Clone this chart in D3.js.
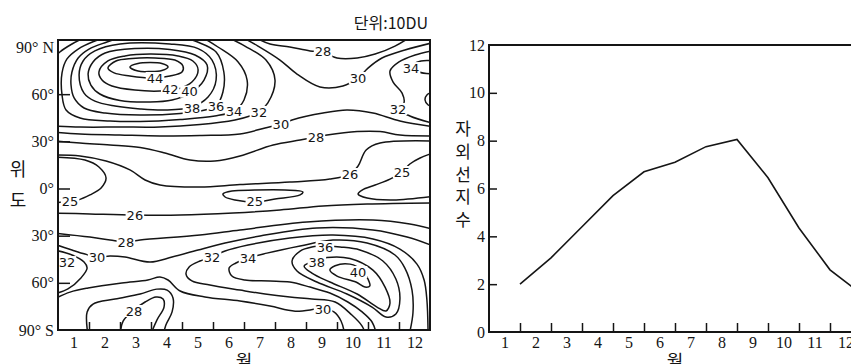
<!DOCTYPE html>
<html>
<head>
<meta charset="utf-8">
<script src="https://cdn.jsdelivr.net/npm/d3@7"></script>
<style>
  body { margin: 0; background: #fff; }
</style>
</head>
<body>
<svg id="chart" width="851" height="364"></svg>
<script>
// ---- data ----
const months = [1, 2, 3, 4, 5, 6, 7, 8, 9, 10, 11, 12];
const latTicks = [90, 60, 30, 0, -30, -60, -90];
const latTickLabels = ["90° N", "60°", "30°", "0°", "30°", "60°", "90° S"];
const uvTicks = [0, 2, 4, 6, 8, 10, 12];
// UV index, one value per month (plotted at the end of each month)
const uvIndex = [2.0, 3.1, 4.4, 5.7, 6.7, 7.1, 7.75, 8.05, 6.45, 4.35, 2.6, 1.6];

// ozone contour lines, points are [month, latitude], level in 10DU
const lvl46 = [[2.32,77.3],[2.58,79.5],[2.97,80.1],[3.35,79.5],[3.55,77.3],[3.35,75.1],[2.97,74.4],[2.58,74.7]];
const lvl44 = [[1.61,76.6],[1.87,81.1],[2.39,82.7],[3.13,83.0],[3.77,81.7],[4.03,77.9],[4.0,74.1],[3.61,71.6],[3.03,70.3],[2.32,71.6],[1.81,73.5]];
const lvl42 = [[1.32,74.1],[1.61,81.1],[2.16,84.3],[2.97,85.5],[3.87,84.3],[4.35,81.1],[4.52,75.4],[4.32,67.7],[3.87,63.3],[3.29,62.0],[2.48,62.6],[1.74,65.2],[1.42,69.0]];
const lvl40n = [[0.97,72.8],[1.13,80.5],[1.52,86.2],[2.48,89.0],[3.61,88.4],[4.42,84.9],[4.81,78.5],[4.71,69.0],[4.26,60.7],[3.68,56.3],[2.97,55.0],[2.0,56.0],[1.35,60.1],[1.06,65.8]];
const lvl38n = [[0.68,72.2],[0.81,81.1],[1.19,87.5],[2.0,91.9],[3.61,91.9],[4.52,89.0],[4.97,81.7],[5.10,69.0],[4.84,58.2],[4.32,51.8],[3.45,49.9],[2.65,50.6],[1.84,52.5],[1.19,55.6],[0.84,60.7]];
const lvl36n = [[2.26,97.6],[1.58,93.2],[1.0,88.7],[0.65,83.0],[0.45,74.1],[0.42,65.8],[0.52,57.6],[0.84,51.2],[1.52,48.0],[2.65,46.7],[3.94,47.7],[4.74,49.9],[5.10,52.5],[5.32,61.4],[5.35,74.1],[5.10,86.8],[4.42,93.8],[3.87,97.6]];
const lvl34n = [[1.74,97.6],[1.19,93.8],[0.65,88.7],[0.29,82.4],[0.13,73.5],[0.13,59.5],[0.26,49.9],[0.71,44.8],[1.68,42.9],[2.65,42.6],[3.94,43.9],[5.06,46.1],[5.68,49.3],[6.0,56.3],[6.10,69.0],[5.81,80.5],[5.16,90],[4.58,97]];
const lvl32n = [[-0.13,39.8],[0.71,39.1],[2.0,39.1],[3.29,39.1],[4.58,40.7],[5.71,43.6],[6.19,46.1],[6.48,48.7],[6.77,54.4],[7.0,69.0],[6.71,81.7],[6.03,90.6],[5.39,97]];
const lvl32corner = [[-0.19,81.7],[0.06,86.8],[0.45,91.9],[0.90,96.4]];
const lvl30s = [[-0.13,35.9],[0.71,34.7],[2.0,34.0],[3.29,33.4],[4.58,33.7],[5.87,34.7],[6.68,38.5],[7.19,41.0],[7.55,43.6],[8.55,48.0],[9.32,49.9],[10.16,48.0],[11.03,42.9],[12.19,39.1]];
const lvl30n = [[5.87,97],[6.45,90.6],[7.16,81.7],[7.71,72.8],[8.45,64.6],[9.19,65.2],[9.68,70.3],[10.0,76.6],[10.45,83.0],[11.19,88.1],[12.19,93.2]];
const lvl28s = [[-0.13,30.2],[0.71,28.9],[1.68,27.7],[2.65,26.1],[3.45,22.6],[4.26,18.1],[5.06,17.5],[5.87,20.7],[6.94,27.7],[7.81,30.8],[8.32,32.7],[8.68,34.0],[9.65,36.2],[10.39,36.2],[11.03,34.0],[12.19,33.4]];
const lvl28n = [[6.26,97],[6.84,91.9],[7.48,90],[8.13,87.5],[8.55,86.8],[9.0,83.0],[9.65,83.0],[10.23,85.5],[10.87,90.6],[11.42,97]];
const lvl32e = [[12.19,88.1],[11.52,84.9],[11.0,80.5],[10.71,74.7],[10.81,67.7],[11.10,60.7],[11.16,54.4],[10.97,50.6],[11.35,46.1],[12.19,41.0]];
const lvl34e = [[12.19,81.1],[11.71,81.1],[11.42,77.9],[11.65,74.1],[12.19,72.8]];
const lvl36e = [[12.19,62.0],[11.90,59.5],[11.84,56.3],[11.94,53.1],[12.19,51.8]];
const lvl26n = [[-0.13,21.3],[0.71,20.7],[1.55,17.5],[2.32,11.8],[2.81,5.4],[3.29,2.2],[4.58,0.9],[5.87,2.5],[7.48,4.1],[8.77,6.0],[9.42,9.2],[9.68,14.3],[9.94,24.5],[10.39,28.9],[12.19,30.2]];
const lvl25w = [[-0.13,20.0],[0.87,18.1],[1.32,13.7],[1.55,6.7],[1.39,0.3],[1.03,-4.1],[0.65,-7.3],[0.39,-8.0],[-0.13,-9.2]];
const lvl25c = [[5.32,-3.5],[5.61,-1.6],[6.35,-1.0],[7.32,-1.0],[7.90,-2.2],[7.81,-4.1],[7.0,-6.7],[6.35,-8.6],[5.71,-7.3],[5.39,-5.4]];
const lvl25e = [[12.19,23.2],[11.68,19.4],[11.35,15.6],[11.10,10.5],[10.71,6.0],[10.23,2.2],[9.81,-1.0],[9.68,-3.5],[9.97,-6.1],[10.81,-7.3],[12.19,-4.8]];
const lvl26s = [[-0.13,-15.6],[1.03,-16.2],[2.48,-16.9],[3.94,-16.9],[5.65,-15.6],[7.16,-13.7],[8.55,-11.1],[9.97,-9.9],[12.19,-9.2]];
const lvl28b = [[-0.13,-28.3],[1.03,-30.9],[1.68,-32.8],[2.19,-34.0],[2.65,-32.8],[4.58,-29.6],[5.87,-26.4],[8.03,-21.3],[10.16,-20.0],[11.35,-22.6],[12.19,-26.4]];
const lvl30b = [[-0.13,-35.3],[0.45,-39.1],[0.87,-41.7],[1.26,-43.6],[1.68,-43.0],[2.16,-43.6],[2.97,-46.8],[3.68,-43.6],[4.52,-39.1],[5.39,-34.7],[6.52,-30.2],[8.35,-25.1],[10.16,-26.4],[11.26,-30.9],[12.19,-37.2]];
const lvl32w = [[-0.13,-39.1],[0.45,-42.3],[0.84,-46.8],[0.94,-50.6],[0.74,-56.9],[0.32,-63.9],[-0.13,-67.1]];
const lvl32t = [[11.94,-93.8],[11.90,-70.9],[11.81,-58.2],[11.58,-48.1],[11.03,-38.5],[10.16,-32.1],[8.87,-29.6],[7.48,-31.5],[6.13,-36.0],[5.39,-39.8],[4.97,-43.6],[4.58,-46.1],[4.23,-49.9],[4.13,-54.4],[4.32,-58.8],[4.90,-61.4],[5.87,-64.6],[6.68,-67.1],[7.48,-69.0],[8.19,-70.3],[8.94,-72.2],[9.48,-80.5],[9.81,-87.5],[9.94,-93.8]];
const lvl34t = [[11.32,-93.8],[11.45,-79.2],[11.42,-64.6],[11.19,-50.6],[10.87,-42.3],[9.97,-34.7],[8.87,-32.8],[7.81,-36.6],[6.74,-41.1],[6.13,-44.2],[5.74,-47.4],[5.52,-50.6],[5.61,-55.7],[6.03,-58.2],[6.84,-58.8],[7.48,-59.5],[8.13,-62.7],[8.77,-66.5],[9.35,-72.2],[9.81,-78.5],[10.13,-84.9],[10.29,-93.8]];
const lvl36s = [[8.61,-36.6],[9.10,-37.2],[9.74,-39.1],[10.48,-46.1],[10.90,-57.6],[11.03,-70.3],[10.90,-79.8],[10.58,-81.7],[10.13,-75.4],[9.32,-67.1],[8.35,-59.5],[7.71,-52.5],[7.55,-46.1],[7.81,-39.8],[8.19,-37.2]];
const lvl38s = [[7.94,-49.3],[8.29,-46.1],[8.68,-43.9],[9.42,-44.5],[10.16,-51.9],[10.55,-62.7],[10.71,-72.8],[10.58,-77.9],[10.29,-75.4],[9.65,-67.1],[8.77,-59.5],[8.19,-53.8]];
const lvl40s = [[8.77,-51.9],[8.94,-49.1],[9.42,-48.1],[9.81,-51.9],[10.0,-57.6],[10.06,-62.0],[9.90,-62.7],[9.61,-59.5],[9.0,-55.7]];
const lvl30p = [[-0.13,-70.3],[0.39,-65.9],[0.97,-63.3],[2.06,-60.1],[2.90,-58.2],[3.29,-56.3],[3.55,-58.2],[3.94,-65.2],[4.74,-69.0],[5.87,-71.6],[6.84,-74.8],[7.65,-78.0],[8.55,-76.6],[8.90,-78.5],[9.13,-84.3],[9.26,-93.8]];
const lvl28q = [[0.97,-93.8],[0.94,-78.5],[1.13,-73.5],[1.84,-70.3],[2.65,-67.1],[3.19,-64.0],[3.52,-64.6],[3.71,-69.6],[3.68,-78.5],[3.48,-86.8],[3.39,-93.8]];
const lvl26r = [[2.0,-93.8],[2.10,-84.3],[2.45,-77.3],[2.81,-72.2],[3.16,-69.0],[3.39,-70.3],[3.42,-75.4],[3.19,-83.7],[2.97,-93.8]];

const closedLoops = [lvl46, lvl44, lvl42, lvl40n, lvl38n, lvl25c, lvl36s, lvl38s, lvl40s];
const openLines = [lvl36n, lvl34n, lvl32n, lvl32corner, lvl30s, lvl30n, lvl28s, lvl28n, lvl32e, lvl34e, lvl36e,
  lvl26n, lvl25w, lvl25e, lvl26s, lvl28b, lvl30b, lvl32w, lvl32t, lvl34t, lvl30p, lvl28q, lvl26r];

// contour labels: [value, month, latitude]
const contourLabels = [
  [44,3.13,70.3],[42,3.62,62.8],[40,4.24,61.6],[38,4.32,51.2],[36,5.10,52.5],[34,5.68,49.3],[32,6.48,48.7],[30,7.19,41.0],[28,8.32,32.7],
  [28,8.55,87.5],[30,9.68,70.3],[34,11.39,76.6],[32,10.97,50.6],[26,9.42,9.2],[25,11.10,10.5],
  [25,0.39,-8.0],[25,6.35,-7.9],[26,2.48,-16.9],[28,2.19,-34.0],[30,1.26,-43.6],[32,0.29,-46.8],
  [32,4.97,-43.6],[34,6.13,-44.2],[36,8.61,-37.2],[38,8.35,-46.8],[40,9.68,-53.1],[30,8.55,-76.6],[28,2.45,-77.9]
];

// ---- drawing ----
const serif = "'Liberation Serif','Times New Roman',serif";
const sans = "'Noto Sans CJK KR','Noto Sans',sans-serif";
const ink = "#151515";

const svg = d3.select("#chart");

// left panel: total ozone by latitude and month
const L = {x: 58, y: 40, w: 372, h: 290};
const gL = svg.append("g").attr("transform", `translate(${L.x},${L.y})`);
const xL = d3.scaleLinear().domain([0, 12]).range([0, L.w]);
const yL = d3.scaleLinear().domain([-90, 90]).range([L.h, 7]);

svg.append("defs").append("clipPath").attr("id", "clipL")
  .append("rect").attr("width", L.w).attr("height", L.h);

const contourG = gL.append("g").attr("clip-path", "url(#clipL)");
const openPath = d3.line().x(d => xL(d[0])).y(d => yL(d[1])).curve(d3.curveCatmullRom.alpha(0.5));
const loopPath = d3.line().x(d => xL(d[0])).y(d => yL(d[1])).curve(d3.curveCatmullRomClosed.alpha(0.5));

contourG.selectAll("path.open").data(openLines).join("path")
  .attr("class", "open").attr("d", openPath)
  .attr("fill", "none").attr("stroke", ink).attr("stroke-width", 1.5);
contourG.selectAll("path.loop").data(closedLoops).join("path")
  .attr("class", "loop").attr("d", loopPath)
  .attr("fill", "none").attr("stroke", ink).attr("stroke-width", 1.5);

// labels sit on the lines with a white box that breaks them
const lab = contourG.selectAll("g.lab").data(contourLabels).join("g")
  .attr("class", "lab")
  .attr("transform", d => `translate(${xL(d[1])},${yL(d[2])})`);
lab.append("rect").attr("fill", "#fff");
const labText = lab.append("text")
  .attr("text-anchor", "middle").attr("dy", "0.36em")
  .attr("font-family", "'DejaVu Sans',sans-serif").attr("font-size", 13).attr("fill", ink)
  .text(d => d[0]);
labText.each(function() {
  const bb = this.getBBox();
  d3.select(this.parentNode).select("rect")
    .attr("x", bb.x - 1).attr("width", bb.width + 2)
    .attr("y", -6).attr("height", 12);
});

// frame
gL.append("rect").attr("width", L.w).attr("height", L.h)
  .attr("fill", "none").attr("stroke", ink).attr("stroke-width", 2);

// inward ticks
gL.append("g").attr("transform", `translate(0,${L.h})`)
  .call(d3.axisBottom(xL).tickValues(d3.range(1, 12)).tickSize(-8).tickFormat(""))
  .call(g => g.select(".domain").remove())
  .call(g => g.selectAll("line").attr("stroke", ink).attr("stroke-width", 1.5));
gL.append("g")
  .call(d3.axisLeft(yL).tickValues(latTicks.slice(1, -1)).tickSize(-12).tickFormat(""))
  .call(g => g.select(".domain").remove())
  .call(g => g.selectAll("line").attr("stroke", ink).attr("stroke-width", 1.5));

// tick labels
gL.append("g")
  .call(d3.axisLeft(yL).tickValues(latTicks).tickSize(0).tickPadding(4)
    .tickFormat((d, i) => latTickLabels[i]))
  .call(g => g.select(".domain").remove())
  .call(g => g.selectAll("text").attr("font-family", serif).attr("font-size", 16).attr("fill", ink));
gL.append("g").attr("transform", `translate(0,${L.h})`)
  .call(d3.axisBottom(xL).tickValues(months.map(m => m - 0.5)).tickSize(0).tickPadding(7)
    .tickFormat(d => d + 0.5))
  .call(g => g.select(".domain").remove())
  .call(g => g.selectAll("text").attr("font-family", serif).attr("font-size", 16).attr("fill", ink));

// axis titles and unit
svg.append("text").attr("x", L.x + L.w - 2).attr("y", 29).attr("text-anchor", "end")
  .attr("font-family", sans).attr("font-size", 16).attr("fill", ink).text("단위:10DU");
svg.append("text").attr("x", 18).attr("y", 160)
  .style("writing-mode", "vertical-rl").style("text-orientation", "upright")
  .attr("font-family", sans).attr("font-size", 18).attr("letter-spacing", 13)
  .attr("fill", ink).text("위도");
svg.append("text").attr("x", L.x + xL(6)).attr("y", 368).attr("text-anchor", "middle")
  .attr("font-family", sans).attr("font-size", 18).attr("fill", ink).text("월");

// right panel: UV index by month
const R = {x: 489, y: 45, w: 372, h: 287};
const gR = svg.append("g").attr("transform", `translate(${R.x},${R.y})`);
const xR = d3.scaleLinear().domain([0, 12]).range([0, R.w]);
const yR = d3.scaleLinear().domain([0, 12]).range([R.h, 0]);

gR.append("rect").attr("width", R.w).attr("height", R.h)
  .attr("fill", "none").attr("stroke", ink).attr("stroke-width", 2);

gR.append("g").attr("transform", `translate(0,${R.h})`)
  .call(d3.axisBottom(xR).tickValues(d3.range(1, 12)).tickSize(-9).tickFormat(""))
  .call(g => g.select(".domain").remove())
  .call(g => g.selectAll("line").attr("stroke", ink).attr("stroke-width", 1.5));
gR.append("g")
  .call(d3.axisLeft(yR).tickValues(uvTicks.slice(1, -1)).tickSize(-8).tickFormat(""))
  .call(g => g.select(".domain").remove())
  .call(g => g.selectAll("line").attr("stroke", ink).attr("stroke-width", 1.5));
gR.append("g")
  .call(d3.axisLeft(yR).tickValues(uvTicks).tickSize(0).tickPadding(4))
  .call(g => g.select(".domain").remove())
  .call(g => g.selectAll("text").attr("font-family", serif).attr("font-size", 16).attr("fill", ink));
gR.append("g").attr("transform", `translate(0,${R.h})`)
  .call(d3.axisBottom(xR).tickValues(months.map(m => m - 0.5)).tickSize(0).tickPadding(5)
    .tickFormat(d => d + 0.5))
  .call(g => g.select(".domain").remove())
  .call(g => g.selectAll("text").attr("font-family", serif).attr("font-size", 16).attr("fill", ink));

gR.append("path").datum(uvIndex)
  .attr("d", d3.line().x((d, i) => xR(months[i])).y(d => yR(d)))
  .attr("fill", "none").attr("stroke", ink).attr("stroke-width", 1.6);

svg.append("text").attr("x", 463).attr("y", 120)
  .style("writing-mode", "vertical-rl").style("text-orientation", "upright")
  .attr("font-family", sans).attr("font-size", 17).attr("letter-spacing", 5.8)
  .attr("fill", ink).text("자외선지수");
svg.append("text").attr("x", R.x + xR(6)).attr("y", 368).attr("text-anchor", "middle")
  .attr("font-family", sans).attr("font-size", 18).attr("fill", ink).text("월");
</script>
</body>
</html>
